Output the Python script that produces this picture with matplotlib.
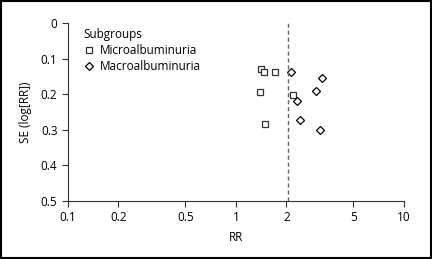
import matplotlib
matplotlib.use('Agg')
import matplotlib.pyplot as plt
from matplotlib.patches import Rectangle

plt.rcParams['font.family'] = ['Open Sans', 'DejaVu Sans']

micro_rr = [1.42, 1.47, 1.71, 1.40, 2.18, 1.50]
micro_se = [0.130, 0.137, 0.138, 0.195, 0.203, 0.284]
macro_rr = [2.12, 3.26, 2.98, 2.31, 2.41, 3.18]
macro_se = [0.138, 0.155, 0.190, 0.219, 0.272, 0.301]
pooled_rr = 2.03
xticks = [0.1, 0.2, 0.5, 1, 2, 5, 10]
xticklabels = ['0.1', '0.2', '0.5', '1', '2', '5', '10']
yticks = [0, 0.1, 0.2, 0.3, 0.4, 0.5]
yticklabels = ['0', '0.1', '0.2', '0.3', '0.4', '0.5']

fig = plt.figure(figsize=(4.32, 2.59), dpi=100)
ax = fig.add_axes([0.157, 0.224, 0.778, 0.687])

ax.plot(micro_rr, micro_se, 's', ms=4.8, mfc='white', mec='#333333', mew=0.9,
        label='Microalbuminuria')
ax.plot(macro_rr, macro_se, 'D', ms=4.3, mfc='white', mec='black', mew=0.9,
        label='Macroalbuminuria')
ax.axvline(pooled_rr, color='#666666', ls=(0, (3, 2)), lw=1)

ax.set_xscale('log')
ax.set_xlim(0.1, 10)
ax.set_ylim(0.5, 0)
ax.set_xticks(xticks)
ax.set_xticklabels(xticklabels)
ax.minorticks_off()
ax.set_yticks(yticks)
ax.set_yticklabels(yticklabels)
ax.tick_params(labelsize=8.5, length=4, width=0.8, color='#333333', pad=3.5)
for s in ['top', 'right']:
    ax.spines[s].set_visible(False)
for s in ['left', 'bottom']:
    ax.spines[s].set_color('#333333')
    ax.spines[s].set_linewidth(0.8)
ax.set_xlabel('RR', fontsize=8.5, labelpad=5)
ax.set_ylabel('SE (log[RR])', fontsize=8.5, labelpad=6)

leg = ax.legend(title='Subgroups', loc='upper left', bbox_to_anchor=(0.025, 1.01),
                frameon=False, fontsize=8.5, title_fontsize=8.5, handletextpad=0.4,
                handlelength=1.0, borderaxespad=0.2, labelspacing=0.25,
                markerscale=0.85)
leg._legend_box.align = 'left'

fig.patches.append(Rectangle((0.002, 0.003), 0.996, 0.994, transform=fig.transFigure,
                             fill=False, ec='black', lw=1.5))

fig.savefig('out.png', dpi=100)
